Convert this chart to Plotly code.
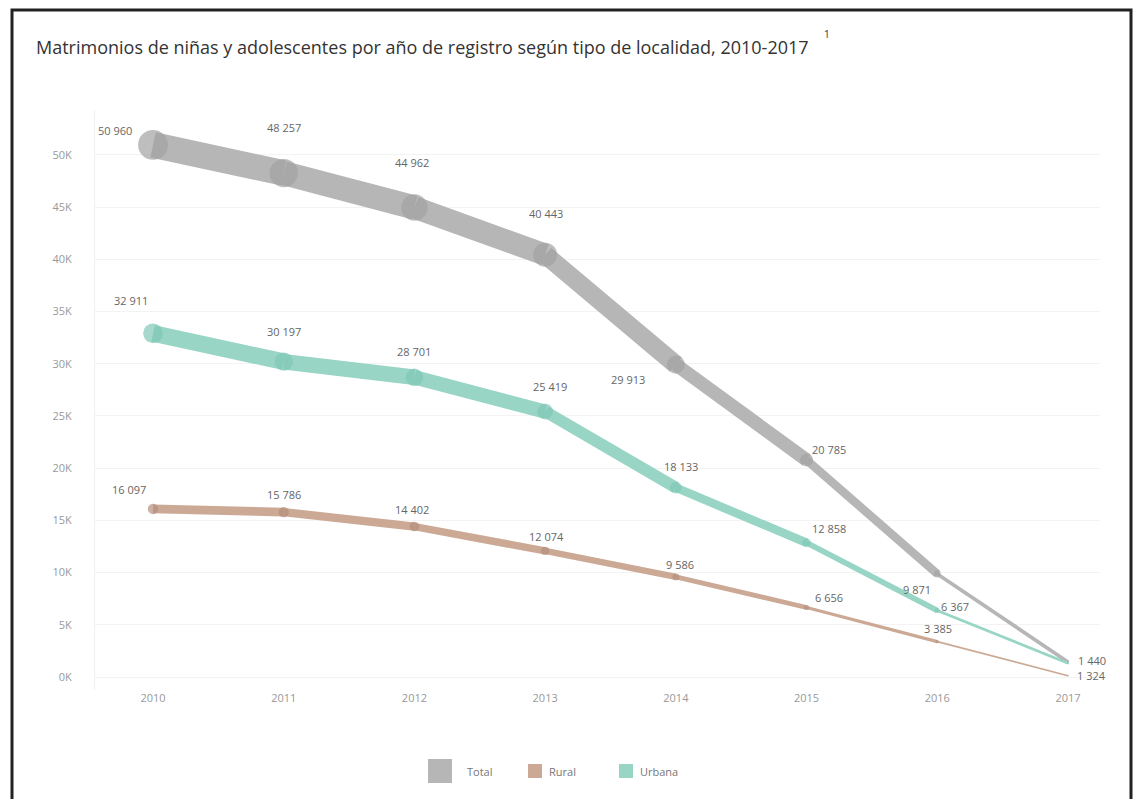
import plotly.graph_objects as go

years = [2010, 2011, 2012, 2013, 2014, 2015, 2016, 2017]
total = [50960, 48257, 44962, 40443, 29913, 20785, 9871, 1440]
urbana = [32911, 30197, 28701, 25419, 18133, 12858, 6367, 1324]
rural = [16097, 15786, 14402, 12074, 9586, 6656, 3385, 116]

line_colors = {"Total": "#b6b6b6", "Rural": "#cba995", "Urbana": "#98d5c5"}
marker_colors = {"Total": "#a2a2a2", "Rural": "#b58f7d", "Urbana": "#80c8b6"}

# label offsets in pixels (dx, dy with dy positive = up); None = hidden
label_offsets = {
    "Total": [(-38, 14), (0, 46), (-2, 45), (1, 41), (-48, -15), (22, 10), (-20, -16), (24, 1)],
    "Urbana": [(-22, 33), (0, 30), (0, 26), (5, 25), (5, 21), (22, 14), (18, 4), (24, -12)],
    "Rural": [(-24, 19), (0, 18), (-2, 17), (1, 14), (4, 12), (22, 10), (1, 13), None],
}

data = {"Total": total, "Urbana": urbana, "Rural": rural}

W_PER = 1 / 2000.0   # line width px per unit
M_PER = 1 / 1800.0   # marker size px per unit

fig = go.Figure()

for name in ["Total", "Urbana", "Rural"]:
    vals = data[name]
    for i in range(len(years) - 1):
        w = (vals[i] + vals[i + 1]) / 2 * W_PER + 0.8
        fig.add_trace(go.Scatter(
            x=[years[i], years[i + 1]], y=[vals[i], vals[i + 1]],
            mode="lines", line=dict(color=line_colors[name], width=w),
            showlegend=False, hoverinfo="skip"))
    fig.add_trace(go.Scatter(
        x=years, y=vals, mode="markers",
        marker=dict(color=marker_colors[name], size=[v * M_PER + 1.5 for v in vals],
                    line=dict(width=0)),
        showlegend=False, hoverinfo="skip"))


def fmt(v):
    return f"{v:,}".replace(",", " ")


annotations = []
for name in ["Total", "Urbana", "Rural"]:
    vals = data[name]
    for i, (yr, v) in enumerate(zip(years, vals)):
        off = label_offsets[name][i]
        if off is None:
            continue
        annotations.append(dict(
            x=yr, y=v, xref="x", yref="y", text=fmt(v), showarrow=False,
            xshift=off[0], yshift=off[1],
            font=dict(family="Open Sans", size=11, color="#666666")))

# layout geometry
W, H = 1135, 799
ML, MR, MT, MB = 95, 35, 110, 109
PW = W - ML - MR
PH = H - MT - MB


def px_x(px):
    return (px - ML) / PW


def px_y(py):
    return (H - MB - py) / PH


annotations.append(dict(
    x=px_x(34), y=px_y(47), xref="paper", yref="paper", xanchor="left", yanchor="middle",
    text="Matrimonios de niñas y adolescentes por año de registro según tipo de localidad, 2010-2017",
    showarrow=False, font=dict(family="Open Sans", size=18, color="#333333")))
annotations.append(dict(
    x=px_x(827), y=px_y(34), xref="paper", yref="paper", xanchor="center", yanchor="middle",
    text="1", showarrow=False, font=dict(family="Open Sans", size=10, color="#333333")))

shapes = []
# outer border
shapes.append(dict(type="rect", xref="paper", yref="paper",
                   x0=px_x(12), x1=px_x(1131), y0=px_y(810), y1=px_y(10),
                   line=dict(color="#222222", width=3), fillcolor="rgba(0,0,0,0)", layer="above"))

# manual legend
legend_items = [("Total", 440, 24, 465), ("Rural", 535, 14, 547), ("Urbana", 626, 14, 638)]
for name, cx, sz, tx in legend_items:
    shapes.append(dict(type="rect", xref="paper", yref="paper",
                       x0=px_x(cx - sz / 2), x1=px_x(cx + sz / 2),
                       y0=px_y(771 + sz / 2), y1=px_y(771 - sz / 2),
                       line=dict(width=0), fillcolor=line_colors[name]))
    annotations.append(dict(x=px_x(tx), y=px_y(771), xref="paper", yref="paper",
                            xanchor="left", yanchor="middle", text=name, showarrow=False,
                            font=dict(family="Open Sans", size=11, color="#777777")))

ytick_vals = list(range(0, 50001, 5000))
ytick_text = [f"{v // 1000}K" for v in ytick_vals]

fig.update_layout(
    width=W, height=H,
    margin=dict(l=ML, r=MR, t=MT, b=MB),
    paper_bgcolor="white", plot_bgcolor="white",
    showlegend=False,
    annotations=annotations,
    shapes=shapes,
    xaxis=dict(range=[2009.556, 2017.245], tickvals=years, ticktext=[str(y) for y in years],
               showgrid=False, zeroline=False, showline=False, ticks="",
               tickfont=dict(family="Open Sans", size=11, color="#999999")),
    yaxis=dict(range=[-1245, 54300], tickvals=ytick_vals, ticktext=ytick_text,
               showgrid=True, gridcolor="#f3f3f3", gridwidth=1, zeroline=False,
               showline=True, linecolor="#f0f0f0", ticks="", ticklabelstandoff=20,
               tickfont=dict(family="Open Sans", size=11, color="#999999")),
)

fig.write_html("out.html")
